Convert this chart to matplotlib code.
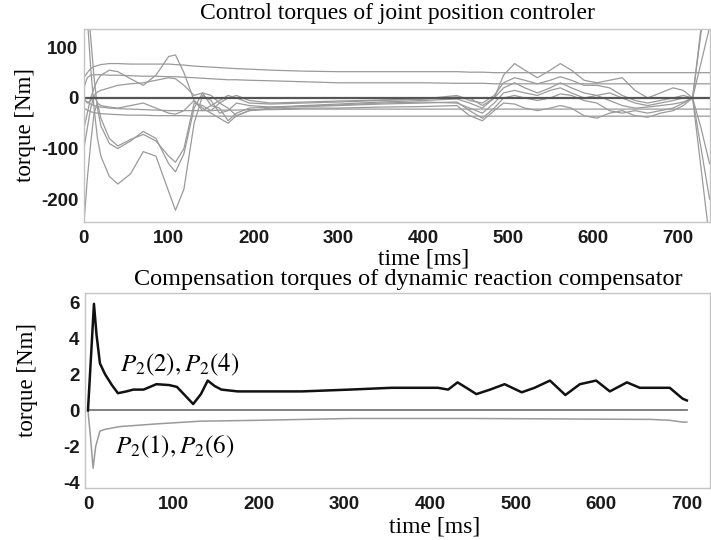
import matplotlib
matplotlib.use("Agg")
import matplotlib.pyplot as plt

# ==========================================================
# Data
# ==========================================================

# control torques, shared time grid [ms]
t_ctrl = [0, 4, 8, 12, 16, 20, 30, 40, 55, 70, 85, 100, 108, 118, 130,
          140, 150, 160, 170, 180, 195, 220, 260, 300, 350, 400, 440, 455,
          470, 484, 495, 508, 520, 535, 550, 562, 575, 590, 605, 620, 635,
          650, 665, 680, 695, 707, 718, 728, 738]

tq_deep = [300, 160, 60, -20, -80, -115, -155, -170, -150, -106, -115, -185,
           -222, -180, -50, 5, -5, -30, -25, -10, -15, -18, -15, -12, -8, -5,
           -2, -10, -20, 0, 20, 30, 20, 10, 20, 30, 20, 10, 5, -5, -15, -20,
           -18, -15, -12, -8, 0, 140, 280]
tq_a = [400, 200, 120, 40, -20, -55, -90, -100, -85, -66, -80, -130, -146,
        -110, -20, 10, -15, -20, -45, -30, -20, -18, -17, -15, -12, -10, -8,
        -25, -40, -20, 0, 5, 0, -5, 0, 8, 5, -5, -10, -25, -30, -25, -30,
        -25, -20, -10, 0, -140, -280]
tq_b = [-100, -60, -20, 5, -10, -40, -80, -95, -82, -72, -85, -115, -127,
        -100, -10, -15, -25, -10, -20, -35, -25, -22, -20, -20, -18, -17,
        -15, -35, -45, -25, -10, -12, -20, -25, -20, -15, -20, -35, -40, -30,
        -25, -35, -38, -30, -25, -15, 0, 70, 140]
tq_peak = [-60, -30, 0, 20, 35, 45, 55, 52, 38, 25, 45, 82, 85, 50, -5, -25,
           -15, -5, 5, 0, -10, -12, -10, -8, -5, -2, 2, 0, -15, 0, 45, 68, 55,
           40, 55, 68, 55, 35, 30, 35, 40, 15, 0, 10, 20, 15, 0, -60, -130]
tq_mid = [0, -10, -5, 5, 12, 15, 20, 25, 28, 30, 35, 40, 38, 25, 5, 10, 5,
          -10, 0, 5, -5, -10, -8, -6, -4, -2, 5, -5, -10, 5, 30, 40, 35, 28,
          35, 42, 35, 25, 25, 20, 5, -5, -10, -5, 0, 5, 0, 130, 260]
tq_low = [-250, -160, -90, -30, -10, -15, -18, -20, -15, -10, -20, -30, -32,
          -25, -5, -20, -30, -40, -50, -35, -25, -20, -16, -14, -10, -8, -10,
          -20, -30, -10, 10, 15, 10, 5, 15, 20, 10, 0, 5, 10, 0, -10, -15,
          -10, -5, 0, 0, -100, -200]
tq_top = [40, 50, 58, 62, 64, 66, 68, 68, 67, 67, 67, 67, 66, 65, 63, 62, 61,
          60, 59, 58, 57, 55, 53, 52, 52, 52, 52, 51, 51, 50, 50, 50, 50, 50,
          50, 50, 50, 50, 50, 50, 50, 50, 50, 50, 50, 50, 50, 50, 50]
tq_flat = [20, 40, 45, 46, 46, 46, 45, 45, 44, 43, 43, 42, 42, 41, 40, 39,
           38, 37, 36, 36, 35, 34, 32, 30, 30, 30, 29, 29, 29, 28, 28, 28, 28,
           28, 28, 28, 28, 28, 28, 28, 28, 28, 28, 28, 28, 28, 28, 28, 28]
tq_neg1 = [-5, -8, -12, -15, -17, -18, -20, -21, -22, -23, -24, -25, -25,
           -25, -25, -25, -25, -24, -24, -24, -23, -23, -22, -22, -22, -22,
           -22, -22, -22, -22, -22, -22, -22, -22, -22, -22, -22, -22, -22,
           -22, -22, -22, -22, -22, -22, -22, -22, -22, -22]
tq_neg2 = [-20, -24, -27, -29, -30, -31, -32, -33, -34, -34, -35, -35, -35,
           -35, -36, -36, -36, -36, -36, -36, -36, -36, -36, -36, -36, -36,
           -36, -36, -36, -36, -36, -36, -36, -36, -36, -36, -36, -36, -36,
           -36, -36, -36, -36, -36, -36, -36, -36, -36, -36]

ctrl_curves = [tq_deep, tq_a, tq_b, tq_peak, tq_mid, tq_low,
               tq_top, tq_flat, tq_neg1, tq_neg2]

# compensation torques
t_comp = [0, 3, 7, 10, 14, 20, 28, 35, 45, 53, 65, 80, 95, 104, 112, 123,
          132, 140, 148, 156, 175, 200, 250, 306, 355, 409, 421, 432, 444,
          454, 470, 487, 507, 522, 540, 558, 575, 594, 610, 630, 645, 665,
          680, 695, 700]
p2_24 = [0, 2.5, 5.9, 4.2, 2.6, 2.0, 1.4, 0.95, 1.05, 1.15, 1.15, 1.45, 1.4,
         1.3, 0.9, 0.35, 0.9, 1.65, 1.35, 1.15, 1.05, 1.05, 1.05, 1.15, 1.25,
         1.25, 1.15, 1.55, 1.2, 0.9, 1.15, 1.45, 1.0, 1.25, 1.65, 0.85, 1.45,
         1.65, 1.05, 1.55, 1.25, 1.25, 1.25, 0.65, 0.55]

t_comp_neg = [0, 3, 6, 9, 14, 20, 37, 80, 131, 200, 306, 450, 657, 680, 695,
              700]
p2_16 = [0, -1.5, -3.2, -2.0, -1.15, -1.05, -0.9, -0.75, -0.6, -0.55, -0.45,
         -0.45, -0.5, -0.55, -0.65, -0.65]


def main():

    plt.rcParams["mathtext.fontset"] = "stix"
    plt.rcParams["axes.unicode_minus"] = False

    serif = "Liberation Serif"
    tick_font = dict(family="Liberation Sans", weight="bold", size=13.5)

    fig = plt.figure(figsize=(7.11, 5.4), dpi=100)

    # ==========================================================
    # Control torques
    # ==========================================================

    ax1 = fig.add_axes([0.118, 0.589, 0.880, 0.357])

    for y in ctrl_curves:
        ax1.plot(t_ctrl, y, color="#9a9a9a", lw=0.9)

    ax1.plot([0, 738], [0, 0], color="#555555", lw=1.6)

    ax1.set_xlim(0, 738)
    ax1.set_ylim(-245, 136)
    ax1.set_xticks([0, 100, 200, 300, 400, 500, 600, 700])
    ax1.set_yticks([-200, -100, 0, 100])

    # ==========================================================
    # Compensation torques
    # ==========================================================

    ax2 = fig.add_axes([0.1195, 0.0963, 0.879, 0.3611])

    ax2.plot([0, 700], [0, 0], color="#777777", lw=1.3)
    ax2.plot(t_comp_neg, p2_16, color="#9a9a9a", lw=1.1)
    ax2.plot(t_comp, p2_24, color="#111111", lw=1.8)

    ax2.text(37, 2.5, r"$P_2(2),P_2(4)$", fontsize=18, va="center")
    ax2.text(32, -2.0, r"$P_2(1),P_2(6)$", fontsize=18, va="center")

    ax2.set_xlim(-3.5, 727)
    ax2.set_ylim(-4.3, 6.5)
    ax2.set_xticks([0, 100, 200, 300, 400, 500, 600, 700])
    ax2.set_yticks([-4, -2, 0, 2, 4, 6])

    for ax in (ax1, ax2):
        for spine in ax.spines.values():
            spine.set_color("#c4c4c4")
            spine.set_linewidth(1.0)
        ax.tick_params(length=0, pad=6, colors="#1a1a1a")
        ax.tick_params(axis="y", pad=4)
        for lab in ax.get_xticklabels() + ax.get_yticklabels():
            lab.set_fontfamily(tick_font["family"])
            lab.set_fontweight(tick_font["weight"])
            lab.set_fontsize(tick_font["size"])

    # ==========================================================
    # Titles and labels
    # ==========================================================

    fig.text(397 / 711, 1 - 13 / 540, "Control torques of joint position controler",
             family=serif, fontsize=17, ha="center", va="center")
    fig.text(424 / 711, 1 - 259 / 540, "time [ms]",
             family=serif, fontsize=17, ha="center", va="center")
    fig.text(26 / 711, 1 - 125 / 540, "torque [Nm]",
             family=serif, fontsize=16.5, ha="center", va="center", rotation=90)

    fig.text(408 / 711, 1 - 280 / 540,
             "Compensation torques of dynamic reaction compensator",
             family=serif, fontsize=17.5, ha="center", va="center")
    fig.text(435 / 711, 1 - 527 / 540, "time [ms]",
             family=serif, fontsize=17, ha="center", va="center")
    fig.text(28 / 711, 1 - 380 / 540, "torque [Nm]",
             family=serif, fontsize=16.5, ha="center", va="center", rotation=90)

    fig.savefig("out.png", dpi=100)
    plt.close(fig)


if __name__ == "__main__":
    main()
